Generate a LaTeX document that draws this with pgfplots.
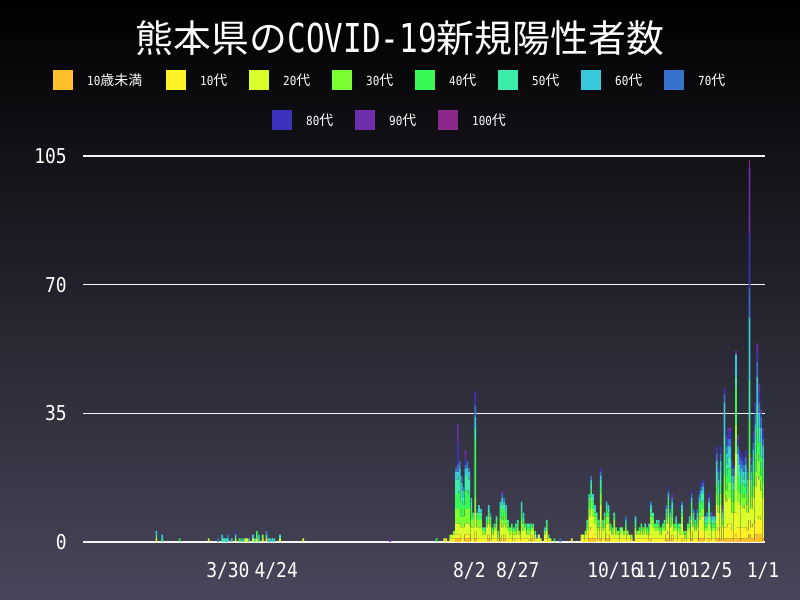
\documentclass[border=0pt]{standalone}
\usepackage{fontspec}
\setmainfont{DejaVu Sans Mono}[FakeStretch=0.88]
\newfontfamily\cjk{Noto Sans CJK JP}
\newfontfamily\titlemono{DejaVu Sans Mono}[FakeStretch=0.78]
\usepackage{pgfplots}
\usepackage{pgfplotstable}
\pgfplotsset{compat=1.18}

\definecolor{cA}{RGB}{255,193,42}
\definecolor{cB}{RGB}{255,242,40}
\definecolor{cC}{RGB}{218,255,42}
\definecolor{cD}{RGB}{124,255,50}
\definecolor{cE}{RGB}{56,248,86}
\definecolor{cF}{RGB}{60,236,170}
\definecolor{cG}{RGB}{56,200,220}
\definecolor{cH}{RGB}{55,115,205}
\definecolor{cI}{RGB}{60,50,190}
\definecolor{cJ}{RGB}{110,45,170}
\definecolor{cK}{RGB}{140,40,140}
\definecolor{bgtop}{RGB}{0,0,0}
\definecolor{bgbot}{RGB}{72,70,90}

% day of year 2020 (1 = Jan 1), counts by age group
\pgfplotstableread{
d   s0 s1 s2 s3 s4 s5 s6 s7 s8 s9 s10
53  0 0 1 0 0 1 1 0 0 0 0
56  0 0 0 0 0 1 1 0 0 0 0
65  0 0 0 0 1 0 0 0 0 0 0
80  0 0 1 0 0 0 0 0 0 0 0
85  0 0 0 0 0 0 0 1 0 0 0
87  0 0 0 0 0 1 1 0 0 0 0
88  0 0 0 0 0 1 0 0 0 0 0
89  0 0 0 0 0 0 1 0 0 0 0
90  0 0 0 0 0 1 0 1 0 0 0
92  0 0 0 0 0 0 1 0 0 0 0
94  0 0 1 0 0 0 1 0 1 0 0
96  0 0 0 0 1 0 0 0 0 0 0
97  0 0 0 0 0 1 0 0 0 0 0
98  0 0 0 0 0 0 1 0 0 0 0
99  0 0 1 0 0 0 0 0 0 0 0
100 0 0 1 0 0 0 0 0 0 0 0
101 0 0 0 0 0 0 1 0 0 0 0
103 0 0 1 0 0 0 1 0 0 0 0
104 0 0 0 0 0 1 0 0 0 0 0
105 0 0 1 0 2 0 0 0 0 0 0
106 0 0 0 0 0 1 1 0 0 0 0
108 0 0 1 1 0 0 0 0 0 0 0
110 0 0 1 0 0 1 0 1 0 0 0
111 0 0 0 0 0 0 1 0 0 0 0
112 0 0 0 0 0 0 1 0 0 0 0
113 0 0 0 0 0 1 0 0 0 0 0
114 0 0 0 0 0 0 1 0 0 0 0
117 0 0 1 0 0 1 0 0 0 0 0
129 0 0 1 0 0 0 0 0 0 0 0
174 0 0 0 0 0 0 0 0 0 1 0
198 0 0 0 0 1 0 0 0 0 0 0
202 0 0 1 0 0 0 0 0 0 0 0
203 0 1 0 0 0 0 0 0 0 0 0
205 0 0 1 1 0 0 0 0 0 0 0
206 0 1 1 0 0 0 0 0 0 0 0
207 0 1 1 1 0 0 0 0 0 0 0
208 1 1 3 4 4 4 2 1 0 0 0
209 1 1 3 4 4 4 2 2 6 5 0
210 1 1 3 4 5 4 2 2 0 0 0
211 0 1 3 3 4 3 2 2 0 0 0
212 0 1 3 3 3 2 2 1 0 0 0
213 1 1 3 4 5 4 2 1 2 2 0
214 1 1 3 4 5 4 2 2 0 0 0
215 1 1 3 4 4 4 2 1 0 0 0
216 0 1 3 2 3 2 1 0 0 0 0
217 0 1 3 2 1 1 0 0 0 0 0
218 1 2 5 4 16 3 3 3 4 0 0
219 0 1 3 2 1 1 0 0 0 1 0
220 0 1 3 2 2 1 1 0 0 0 0
221 0 1 3 2 1 1 1 0 0 0 0
222 0 0 2 1 1 0 0 0 0 0 0
223 0 1 1 1 0 1 0 0 0 0 0
224 0 1 3 1 1 1 0 0 0 0 0
225 1 1 3 2 1 1 1 0 0 0 0
226 0 1 3 1 1 1 0 1 0 0 0
227 0 1 1 1 1 0 0 0 0 0 0
228 0 1 2 1 0 1 0 0 0 0 0
229 0 1 2 2 1 1 0 0 0 0 0
230 0 0 1 1 1 0 0 0 0 0 0
231 1 1 3 2 2 1 1 0 0 0 0
232 0 1 3 2 3 2 1 1 0 1 0
233 1 1 3 2 2 1 1 1 0 0 0
234 0 1 3 2 2 1 1 0 0 0 0
235 0 1 2 1 1 1 0 0 0 0 0
236 0 1 1 1 1 0 0 0 0 0 0
237 0 1 2 1 1 0 0 0 0 0 0
238 0 0 2 1 0 1 0 0 0 0 0
239 0 1 1 1 1 1 0 0 0 0 0
240 0 1 2 1 1 1 0 0 0 0 0
241 0 1 1 1 0 0 0 0 0 0 0
242 0 1 3 2 2 2 1 0 0 0 0
243 0 1 2 2 1 1 1 0 0 0 0
244 0 1 2 1 1 0 0 0 0 0 0
245 0 1 1 1 1 1 0 0 0 0 0
246 0 0 2 1 1 1 0 0 0 0 0
247 1 1 1 1 1 0 0 0 0 0 0
248 0 1 2 1 0 1 0 0 0 0 0
249 0 1 1 0 1 0 0 0 0 0 0
250 0 0 1 0 0 0 0 1 0 0 0
251 0 1 1 0 0 0 0 0 0 0 0
252 0 0 1 0 0 0 0 0 0 0 0
254 0 1 1 1 0 0 1 0 0 0 0
255 0 1 2 1 1 1 0 0 0 0 0
256 0 0 1 0 1 0 0 0 0 0 0
257 0 0 1 0 0 0 0 0 0 0 0
259 0 0 0 0 1 0 0 0 0 0 0
262 0 0 0 0 0 0 0 1 0 0 0
268 0 1 0 0 0 0 0 0 0 0 0
273 0 1 1 0 0 0 0 0 0 0 0
274 0 1 1 0 0 0 0 0 0 0 0
275 0 1 1 1 0 0 0 0 0 0 0
276 0 1 2 1 1 1 0 0 0 0 0
277 1 2 4 2 2 1 1 0 0 0 0
278 1 3 5 3 2 2 1 1 0 0 0
279 1 2 4 2 2 1 1 0 0 0 0
280 1 1 3 2 1 1 1 0 0 0 0
281 0 1 3 2 1 1 0 0 0 0 0
282 0 1 2 1 1 1 0 0 0 0 0
283 1 3 6 3 2 2 1 1 1 0 0
284 0 1 2 1 1 1 0 0 0 0 0
285 0 1 3 2 1 1 0 0 0 0 0
286 1 1 3 2 2 1 1 0 0 0 0
287 1 1 3 2 1 1 1 0 0 0 0
288 0 1 2 1 1 0 0 0 0 0 0
289 0 1 1 1 1 0 0 0 0 0 0
290 0 1 3 2 1 1 0 0 0 0 0
291 0 1 1 1 1 0 0 0 0 0 0
292 0 1 1 1 0 0 0 0 0 0 0
293 0 1 1 1 0 1 0 0 0 0 0
294 0 1 2 1 0 0 0 0 0 0 0
295 0 1 1 0 1 0 0 0 0 0 0
296 0 1 2 1 1 0 1 1 0 0 0
297 0 1 1 1 0 0 0 0 0 0 0
298 0 1 1 0 0 0 0 0 0 0 0
299 0 0 1 1 0 0 0 0 0 0 0
301 0 1 2 1 1 1 1 0 0 0 0
302 0 1 1 1 0 0 0 0 0 0 0
303 0 1 1 1 1 0 0 0 0 0 0
304 0 1 2 1 1 0 0 0 0 0 0
305 0 1 1 1 1 0 0 0 0 0 0
306 0 1 2 1 0 1 0 0 0 0 0
307 0 1 1 1 1 0 0 0 0 0 0
308 0 1 1 1 1 1 0 0 0 0 0
309 1 1 3 2 1 1 1 1 0 0 0
310 0 1 3 2 1 1 0 0 0 0 0
311 0 1 2 1 1 0 0 0 0 0 0
312 0 1 2 1 1 1 0 0 0 0 0
313 0 1 2 1 1 0 1 0 0 0 0
314 0 1 1 1 1 0 0 0 0 0 0
315 0 1 2 1 1 0 0 0 0 0 0
316 0 1 2 1 1 1 0 0 0 0 0
317 1 1 3 1 1 1 1 1 0 0 0
318 1 2 4 2 2 1 1 1 1 0 0
319 0 1 3 1 1 1 1 1 1 0 0
320 1 1 3 2 2 1 1 1 0 1 0
321 0 1 2 1 1 0 0 0 0 0 0
322 0 1 2 1 1 1 1 0 0 0 0
323 0 1 2 1 1 0 0 0 0 0 0
324 0 1 1 1 1 1 0 0 0 0 0
325 1 1 3 2 1 1 1 1 0 0 0
326 0 1 1 1 0 0 0 0 0 0 0
327 0 0 1 1 1 0 0 0 0 0 0
328 0 1 2 1 1 0 0 0 0 0 0
329 0 1 2 1 1 1 1 0 0 0 0
330 1 2 3 2 2 1 1 1 1 0 0
331 0 1 3 1 1 1 1 1 0 0 0
332 0 1 2 1 1 1 0 0 0 0 0
333 0 1 3 1 1 1 1 1 0 0 0
334 1 2 3 2 2 1 1 1 1 0 0
335 1 2 4 2 2 2 1 1 1 0 0
336 1 2 4 2 2 2 2 1 1 0 0
337 0 1 2 1 1 1 1 0 0 0 0
338 0 1 2 1 1 1 1 1 0 0 0
339 1 1 3 2 2 1 1 1 1 0 0
340 0 1 2 1 1 1 1 1 0 0 0
341 0 1 2 1 1 1 1 0 0 1 0
342 0 1 2 1 1 1 1 0 0 0 0
343 1 3 6 3 3 3 3 2 2 0 0
344 1 2 5 2 3 2 2 2 1 0 0
345 1 3 6 3 3 3 3 2 2 0 0
346 0 1 3 1 1 1 1 1 1 0 0
347 1 3 9 5 7 4 9 2 2 0 0
348 1 3 7 3 4 3 3 2 2 1 0
349 1 4 7 4 4 3 3 2 2 1 0
350 1 4 7 4 4 3 3 2 2 1 0
351 1 2 5 3 3 2 2 2 1 1 0
352 1 2 5 3 3 2 2 2 1 0 0
353 2 6 16 8 10 3 6 0 0 1 0
354 1 3 7 3 4 3 3 2 2 1 0
355 1 3 6 3 3 3 2 2 2 0 0
356 1 3 6 3 3 2 2 2 2 0 0
357 1 3 5 3 3 2 2 2 2 0 0
358 1 3 6 3 3 3 2 2 2 0 0
359 1 2 5 2 3 2 2 2 1 0 0
360 2 4 11 7 9 11 17 8 15 18 2
361 1 3 5 3 3 2 2 2 1 1 0
362 1 4 7 3 4 3 3 2 2 1 0
363 2 4 9 4 5 4 4 3 2 1 0
364 2 4 12 6 7 6 8 4 3 2 0
365 2 5 10 5 5 4 4 3 3 2 0
366 2 4 8 4 5 4 4 3 1 1 0
367 1 4 7 4 4 3 3 2 2 1 0
}\data

\begin{document}
\begin{tikzpicture}
\shade[top color=bgtop, bottom color=bgbot] (0bp,0bp) rectangle (800bp,600bp);
\node[text=white, inner sep=0pt] at (400bp,562bp)
  {\cjk\fontsize{38}{44}\selectfont 熊本県の{\titlemono\fontsize{40}{44}\selectfont COVID-19}新規陽性者数};

% legend row 1
\fill[cA] (53bp,510bp) rectangle ++(20bp,20bp);
\node[anchor=west, inner sep=0pt, text=white] at (87bp,520bp) {\fontsize{12.5}{14}\selectfont 10{\cjk\fontsize{14}{14}\selectfont 歳未満}};
\fill[cB] (166bp,510bp) rectangle ++(20bp,20bp);
\node[anchor=west, inner sep=0pt, text=white] at (200bp,520bp) {\fontsize{12.5}{14}\selectfont 10{\cjk\fontsize{14}{14}\selectfont 代}};
\fill[cC] (249bp,510bp) rectangle ++(20bp,20bp);
\node[anchor=west, inner sep=0pt, text=white] at (283bp,520bp) {\fontsize{12.5}{14}\selectfont 20{\cjk\fontsize{14}{14}\selectfont 代}};
\fill[cD] (332bp,510bp) rectangle ++(20bp,20bp);
\node[anchor=west, inner sep=0pt, text=white] at (366bp,520bp) {\fontsize{12.5}{14}\selectfont 30{\cjk\fontsize{14}{14}\selectfont 代}};
\fill[cE] (415bp,510bp) rectangle ++(20bp,20bp);
\node[anchor=west, inner sep=0pt, text=white] at (449bp,520bp) {\fontsize{12.5}{14}\selectfont 40{\cjk\fontsize{14}{14}\selectfont 代}};
\fill[cF] (498bp,510bp) rectangle ++(20bp,20bp);
\node[anchor=west, inner sep=0pt, text=white] at (532bp,520bp) {\fontsize{12.5}{14}\selectfont 50{\cjk\fontsize{14}{14}\selectfont 代}};
\fill[cG] (581bp,510bp) rectangle ++(20bp,20bp);
\node[anchor=west, inner sep=0pt, text=white] at (615bp,520bp) {\fontsize{12.5}{14}\selectfont 60{\cjk\fontsize{14}{14}\selectfont 代}};
\fill[cH] (664bp,510bp) rectangle ++(20bp,20bp);
\node[anchor=west, inner sep=0pt, text=white] at (698bp,520bp) {\fontsize{12.5}{14}\selectfont 70{\cjk\fontsize{14}{14}\selectfont 代}};
% legend row 2
\fill[cI] (272bp,470bp) rectangle ++(20bp,20bp);
\node[anchor=west, inner sep=0pt, text=white] at (306bp,480bp) {\fontsize{12.5}{14}\selectfont 80{\cjk\fontsize{14}{14}\selectfont 代}};
\fill[cJ] (355bp,470bp) rectangle ++(20bp,20bp);
\node[anchor=west, inner sep=0pt, text=white] at (389bp,480bp) {\fontsize{12.5}{14}\selectfont 90{\cjk\fontsize{14}{14}\selectfont 代}};
\fill[cK] (438bp,470bp) rectangle ++(20bp,20bp);
\node[anchor=west, inner sep=0pt, text=white] at (472bp,480bp) {\fontsize{12.5}{14}\selectfont 100{\cjk\fontsize{14}{14}\selectfont 代}};

\begin{axis}[
  at={(83bp,58bp)}, anchor=south west,
  width=682bp, height=386bp, scale only axis,
  xmin=15, xmax=368, ymin=0, ymax=105,
  ybar stacked, bar width=0.85,
  xtick={90,115,215,240,290,315,340,367},
  xticklabels={3/30,4/24,8/2,8/27,10/16,11/10,12/5,1/1},
  ytick={0,35,70,105},
  ymajorgrids, grid style={draw=white!92!gray, line width=1.4bp},
  axis line style={draw=none}, major tick length=0pt,
  tick label style={text=white, font=\fontsize{20.5}{24}\selectfont},
  xticklabel style={anchor=north, inner sep=0pt, yshift=-20bp},
  yticklabel style={anchor=east, inner sep=0pt, xshift=-16bp},
  /pgf/number format/assume math mode=true,
  every axis plot/.append style={draw=none},
]
\addplot[fill=cA] table[x=d, y=s0] {\data};
\addplot[fill=cB] table[x=d, y=s1] {\data};
\addplot[fill=cC] table[x=d, y=s2] {\data};
\addplot[fill=cD] table[x=d, y=s3] {\data};
\addplot[fill=cE] table[x=d, y=s4] {\data};
\addplot[fill=cF] table[x=d, y=s5] {\data};
\addplot[fill=cG] table[x=d, y=s6] {\data};
\addplot[fill=cH] table[x=d, y=s7] {\data};
\addplot[fill=cI] table[x=d, y=s8] {\data};
\addplot[fill=cJ] table[x=d, y=s9] {\data};
\addplot[fill=cK] table[x=d, y=s10] {\data};
\end{axis}
\end{tikzpicture}
\end{document}
